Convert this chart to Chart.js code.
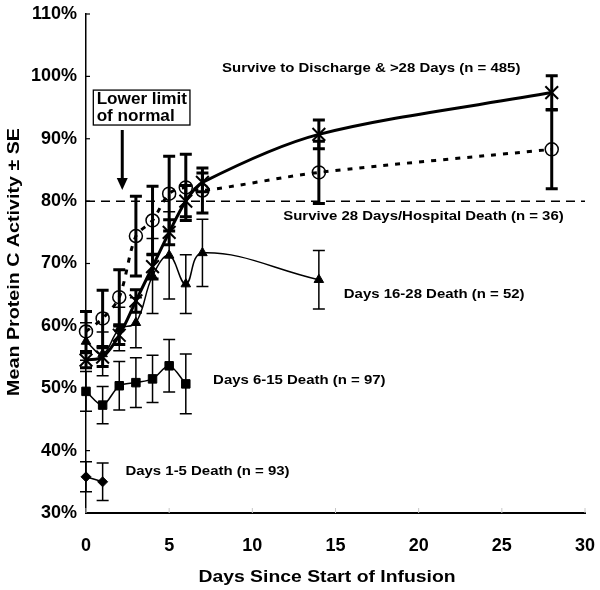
<!DOCTYPE html>
<html>
<head>
<meta charset="utf-8">
<script src="https://cdn.jsdelivr.net/npm/chart.js@4/dist/chart.umd.min.js"></script>
<style>
html,body{margin:0;padding:0;background:#fff;}
#wrap{width:600px;height:590px;position:relative;}
</style>
</head>
<body>
<div id="wrap"><canvas id="c" width="600" height="590"></canvas></div>
<script>
// ---- data ----
const daysAll = [0, 1, 2, 3, 4, 5, 6, 7, 14, 28];
const surviveDischarge = [54.5, 55, 58.5, 64, 69.5, 75, 80, 83, 90.7, 97.4];
const surviveDischargeSE = [1.2, 1.5, 1.5, 1.8, 2, 2, 2.5, 1.5, 2.3, 2.7];
const survive28 = [59.1, 61.2, 64.6, 74.4, 76.9, 81.2, 82.2, 81.7, 84.6, 88.3];
const survive28SE = [3.2, 4.5, 4.4, 6.4, 5.5, 6, 5.3, 3.6, 5, 6.3];
const days16to28 = [0, 1, 2, 3, 4, 5, 6, 7, 14];
const death16to28 = [57.5, 55.5, 59.5, 60.5, 68, 71.3, 66.7, 71.7, 67.4];
const death16to28SE = [3, 3.5, 3.5, 4, 6, 7, 4.7, 5.4, 4.7];
const days6to15 = [0, 1, 2, 3, 4, 5, 6];
const death6to15 = [49.5, 47.3, 50.4, 50.9, 51.5, 53.6, 50.7];
const death6to15SE = [3.2, 3, 3.9, 4, 3.8, 4.2, 4.8];
const days1to5 = [0, 1];
const death1to5 = [35.8, 35];
const death1to5SE = [2.4, 3];
const limitDays = [0, 30];
const lowerLimit = [80, 80];
const xTicks = [0, 5, 10, 15, 20, 25, 30];
const yTicks = [30, 40, 50, 60, 70, 80, 90, 100, 110];

const labels = {
  surviveDischarge: 'Survive to Discharge & >28 Days (n = 485)',
  survive28: 'Survive 28 Days/Hospital Death (n = 36)',
  death16to28: 'Days 16-28 Death (n = 52)',
  death6to15: 'Days 6-15 Death (n = 97)',
  death1to5: 'Days 1-5 Death (n = 93)',
  xTitle: 'Days Since Start of Infusion',
  yTitle: 'Mean Protein C Activity \u00B1 SE',
  box1: 'Lower limit',
  box2: 'of normal'
};

const FONT = '"Liberation Sans", Arial, Helvetica, sans-serif';
const pts = (xs, ys) => xs.map((x, i) => ({x: x, y: ys[i]}));

const datasets = [
  {label: 'limit', data: pts(limitDays, lowerLimit), borderColor: '#000', borderWidth: 1.5,
   borderDash: [9, 6], pointRadius: 0, fill: false, tension: 0},
  {label: labels.death1to5, data: pts(days1to5, death1to5), errors: death1to5SE, errW: 1.5,
   borderColor: '#000', backgroundColor: '#000', borderWidth: 1.5, pointStyle: 'rectRot',
   pointRadius: 5, pointBorderWidth: 1, tension: 0.3},
  {label: labels.death6to15, data: pts(days6to15, death6to15), errors: death6to15SE, errW: 1.5,
   borderColor: '#000', backgroundColor: '#000', borderWidth: 1.5, pointStyle: 'rect',
   pointRadius: 6, pointBorderWidth: 1, tension: 0.3},
  {label: labels.death16to28, data: pts(days16to28, death16to28), errors: death16to28SE, errW: 1.5,
   borderColor: '#000', backgroundColor: '#000', borderWidth: 1.5, pointStyle: 'triangle',
   pointRadius: 5.5, pointBorderWidth: 1, tension: 0.4},
  {label: labels.survive28, data: pts(daysAll, survive28), errors: survive28SE, errW: 3,
   borderColor: '#000', backgroundColor: 'rgba(0,0,0,0)', borderWidth: 3, borderDash: [5, 7],
   pointStyle: 'circle', pointRadius: 6.5, pointBorderWidth: 1.5, tension: 0.3},
  {label: labels.surviveDischarge, data: pts(daysAll, surviveDischarge), errors: surviveDischargeSE, errW: 3,
   borderColor: '#000', backgroundColor: '#000', borderWidth: 3, pointStyle: 'crossRot',
   pointRadius: 9, pointBorderWidth: 2, tension: 0.3}
];
datasets.forEach(d => { d.clip = false; d.fill = false; });

const errorBars = {
  id: 'errorBars',
  afterDatasetsDraw(chart) {
    const ctx = chart.ctx, xs = chart.scales.x, ys = chart.scales.y;
    ctx.save();
    ctx.strokeStyle = '#000';
    chart.data.datasets.forEach(ds => {
      if (!ds.errors) return;
      ctx.lineWidth = ds.errW;
      ds.data.forEach((p, i) => {
        const e = ds.errors[i];
        const px = xs.getPixelForValue(p.x);
        const top = ys.getPixelForValue(p.y + e), bot = ys.getPixelForValue(p.y - e);
        ctx.beginPath();
        ctx.moveTo(px, top); ctx.lineTo(px, bot);
        ctx.moveTo(px - 6, top); ctx.lineTo(px + 6, top);
        ctx.moveTo(px - 6, bot); ctx.lineTo(px + 6, bot);
        ctx.stroke();
      });
    });
    ctx.restore();
  }
};

function sText(ctx, text, x, y, size, sx, align, rot) {
  ctx.save();
  ctx.translate(x, y);
  if (rot) ctx.rotate(rot);
  ctx.scale(sx, 1);
  ctx.font = 'bold ' + size + 'px ' + FONT;
  ctx.fillStyle = '#000';
  ctx.textAlign = align;
  ctx.textBaseline = 'middle';
  ctx.fillText(text, 0, 0);
  ctx.restore();
}

const annotate = {
  id: 'annotate',
  afterDraw(chart) {
    const ctx = chart.ctx, xs = chart.scales.x, ys = chart.scales.y;
    const X = v => xs.getPixelForValue(v), Y = v => ys.getPixelForValue(v);
    const a = chart.chartArea;
    // inner tick marks
    ctx.save();
    ctx.strokeStyle = '#000'; ctx.lineWidth = 1.2;
    yTicks.forEach(t => { const py = Y(t); ctx.beginPath(); ctx.moveTo(a.left, py); ctx.lineTo(a.left + 4, py); ctx.stroke(); });
    ctx.strokeStyle = '#c8c8c8'; ctx.lineWidth = 1;
    xTicks.forEach(t => { const px = X(t); ctx.beginPath(); ctx.moveTo(px, a.bottom); ctx.lineTo(px, a.bottom - 5); ctx.stroke(); });
    ctx.restore();

    // series labels
    sText(ctx, labels.surviveDischarge, X(8.18), Y(101.3), 13, 1.15, 'left');
    sText(ctx, labels.survive28, X(11.86), Y(77.5), 13, 1.15, 'left');
    sText(ctx, labels.death16to28, X(15.5), Y(65), 13, 1.15, 'left');
    sText(ctx, labels.death6to15, X(7.64), Y(51.2), 13, 1.15, 'left');
    sText(ctx, labels.death1to5, X(2.37), Y(36.6), 13, 1.15, 'left');

    // lower limit box + arrow
    ctx.save();
    ctx.strokeStyle = '#000'; ctx.lineWidth = 1.3;
    const bx0 = X(0.44), bx1 = X(6.25), by0 = Y(97.8), by1 = Y(92.2);
    ctx.strokeRect(bx0, by0, bx1 - bx0, by1 - by0);
    ctx.restore();
    sText(ctx, labels.box1, X(0.64), Y(96.3), 16, 1.07, 'left');
    sText(ctx, labels.box2, X(0.64), Y(93.6), 16, 1.07, 'left');
    ctx.save();
    const ax = X(2.18), ay0 = Y(91.4), ay1 = Y(81.8);
    ctx.fillStyle = '#000'; ctx.strokeStyle = '#000'; ctx.lineWidth = 3;
    ctx.beginPath(); ctx.moveTo(ax, ay0); ctx.lineTo(ax, ay1 - 11); ctx.stroke();
    ctx.beginPath(); ctx.moveTo(ax - 5.5, ay1 - 12); ctx.lineTo(ax + 5.5, ay1 - 12); ctx.lineTo(ax, ay1); ctx.closePath(); ctx.fill();
    ctx.restore();

    // axis titles
    sText(ctx, labels.xTitle, 327, 578, 16, 1.21, 'center');
    sText(ctx, labels.yTitle, 15, 262, 16, 1.23, 'center', -Math.PI / 2);
  }
};

new Chart(document.getElementById('c'), {
  type: 'line',
  data: {datasets: datasets},
  options: {
    responsive: false,
    animation: false,
    events: [],
    layout: {padding: {top: 14, right: 15, left: 0, bottom: 0}},
    plugins: {legend: {display: false}, tooltip: {enabled: false}},
    scales: {
      x: {
        type: 'linear', min: 0, max: 30,
        afterBuildTicks: s => { s.ticks = xTicks.map(v => ({value: v})); },
        afterFit: s => { s.height = 77; s.paddingLeft = 0; s.paddingRight = 0; },
        grid: {display: false, drawTicks: false},
        border: {color: '#000', width: 2},
        ticks: {color: '#000', padding: 22, font: {family: FONT, size: 18, weight: 'bold'}}
      },
      y: {
        min: 30, max: 110,
        afterBuildTicks: s => { s.ticks = yTicks.map(v => ({value: v})); },
        afterFit: s => { s.width = 86; s.paddingTop = 0; s.paddingBottom = 0; },
        grid: {display: false, drawTicks: false},
        border: {color: '#000', width: 1.5},
        ticks: {color: '#000', padding: 9, font: {family: FONT, size: 18, weight: 'bold'},
                callback: v => v + '%'}
      }
    }
  },
  plugins: [errorBars, annotate]
});
</script>
</body>
</html>
